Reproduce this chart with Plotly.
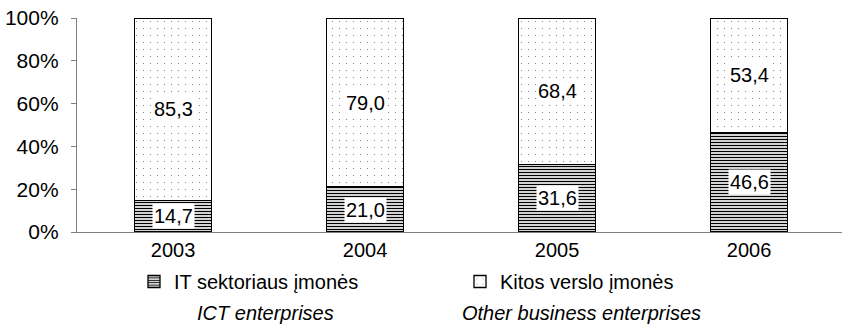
import plotly.graph_objects as go

# Share of enterprises by year (%)
years = ["2003", "2004", "2005", "2006"]
it_sector = [14.7, 21.0, 31.6, 46.6]
other_business = [85.3, 79.0, 68.4, 53.4]

name_it = "IT sektoriaus įmonės"
name_other = "Kitos verslo įmonės"
name_it_en = "ICT enterprises"
name_other_en = "Other business enterprises"

y_ticks = [0, 20, 40, 60, 80, 100]
y_tick_text = [f"{v}%" for v in y_ticks]

FONT = "Liberation Sans, Arial, sans-serif"
W, H = 842, 333
L, R, T, B = 77, 0, 18, 101
PW, PH = W - L - R, H - T - B


def lt(v):
    return f"{v:.1f}".replace(".", ",")


def px_x(x):
    return (x - L) / PW


def px_y(y):
    return (H - B - y) / PH


fig = go.Figure()
fig.add_trace(go.Bar(
    x=years, y=it_sector, name=name_it, width=0.4,
    marker=dict(color="white",
                line=dict(color="black", width=1.3),
                pattern=dict(shape="-", size=3, solidity=0.45,
                             fgcolor="black", bgcolor="white", fillmode="replace")),
))
fig.add_trace(go.Bar(
    x=years, y=other_business, name=name_other, width=0.4,
    marker=dict(color="white",
                line=dict(color="black", width=1.3),
                pattern=dict(shape=".", size=7, solidity=0.025,
                             fgcolor="#777777", bgcolor="white", fillmode="replace")),
))

# Value labels in the middle of each segment
label_font = dict(family=FONT, size=20, color="black")
for i, (a, b) in enumerate(zip(it_sector, other_business)):
    fig.add_annotation(x=i, y=a / 2, xref="x", yref="y", text=lt(a),
                       showarrow=False, bgcolor="white", borderpad=1, font=label_font)
    fig.add_annotation(x=i, y=a + b / 2, xref="x", yref="y", text=lt(b),
                       showarrow=False, bgcolor="white", borderpad=1, font=label_font)

# English captions under the legend entries
cap_font = dict(family=FONT, size=20, color="black")
fig.add_annotation(x=px_x(265), y=px_y(313), xref="paper", yref="paper",
                   xanchor="center", yanchor="middle",
                   text=f"<i>{name_it_en}</i>", showarrow=False, font=cap_font)
fig.add_annotation(x=px_x(581), y=px_y(313), xref="paper", yref="paper",
                   xanchor="center", yanchor="middle",
                   text=f"<i>{name_other_en}</i>", showarrow=False, font=cap_font)

fig.update_layout(
    width=W, height=H,
    margin=dict(l=L, r=R, t=T, b=B),
    barmode="stack",
    plot_bgcolor="white", paper_bgcolor="white",
    font=dict(family=FONT, size=20, color="black"),
    showlegend=True,
    legend=dict(orientation="h", x=px_x(134), xanchor="left",
                y=px_y(262), yanchor="top", entrywidth=281,
                font=dict(family=FONT, size=20, color="black"),
                traceorder="normal"),
    xaxis=dict(type="category", range=[-0.5, 3.484], showline=True,
               linecolor="#808080", linewidth=1.3,
               ticks="", tickfont=dict(size=20), showgrid=False),
    yaxis=dict(range=[0, 100], tickvals=y_ticks, ticktext=y_tick_text,
               showline=True, linecolor="#808080", linewidth=1.3,
               ticks="outside", ticklen=5, tickcolor="#808080",
               ticklabelstandoff=8,
               tickfont=dict(size=21), showgrid=False, zeroline=False),
)

fig.write_html("out.html")
